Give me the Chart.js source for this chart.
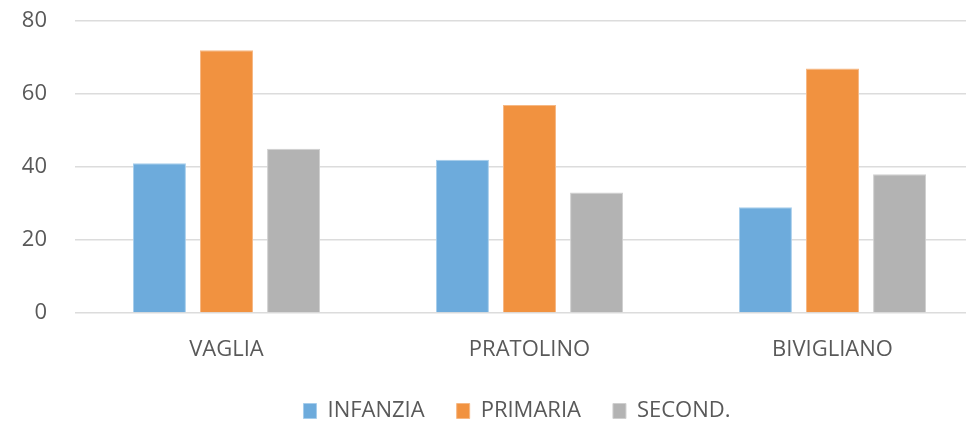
<!DOCTYPE html>
<html>
<head>
<meta charset="utf-8">
<script src="https://cdn.jsdelivr.net/npm/chart.js@4.4.0/dist/chart.umd.min.js"></script>
<style>
  html, body { margin: 0; padding: 0; background: #fff; overflow: hidden; }
  #wrap { position: relative; width: 984px; height: 432px; }
</style>
</head>
<body>
<div id="wrap"><canvas id="scuole"></canvas></div>
<script>
// iscritti per plesso e ordine di scuola
var plessi = ['VAGLIA', 'PRATOLINO', 'BIVIGLIANO'];
var infanzia = [41, 42, 29];
var primaria = [72, 57, 67];
var secondaria = [45, 33, 38];
var yTicks = [0, 20, 40, 60, 80];

var testo = '#595959';
var griglia = '#dcdcdc';

function serie(label, values, fill, edge) {
    return {
        label: label,
        data: values,
        backgroundColor: fill,
        borderColor: edge,
        borderWidth: 1,
        barPercentage: 0.79,
        categoryPercentage: 0.664
    };
}

// sposta la legenda un po' a destra, centrata sotto l'area del grafico
var spostaLegenda = {
    id: 'spostaLegenda',
    afterLayout: function (chart) {
        chart.legend.left += 15;
        chart.legend.right += 15;
    }
};

var ctx = document.getElementById('scuole').getContext('2d');
new Chart(ctx, {
    type: 'bar',
    data: {
        labels: plessi,
        datasets: [
            serie('INFANZIA', infanzia, '#6dabdc', '#a6cdec'),
            serie('PRIMARIA', primaria, '#f19240', '#f6b884'),
            serie('SECOND.', secondaria, '#b3b3b3', '#cfcfcf')
        ]
    },
    plugins: [spostaLegenda],
    options: {
        responsive: true,
        maintainAspectRatio: false,
        animation: false,
        layout: { padding: { top: 21, left: 20, right: 0, bottom: 0 } },
        plugins: {
            tooltip: { enabled: false },
            legend: {
                position: 'bottom',
                labels: {
                    color: testo,
                    font: { family: 'Open Sans', size: 22 },
                    boxWidth: 13,
                    boxHeight: 15,
                    padding: 32
                }
            }
        },
        scales: {
            x: {
                afterFit: function (scale) { scale.height = 55; },
                grid: { display: false },
                border: { display: false },
                ticks: {
                    color: testo,
                    padding: 16,
                    font: { family: 'Open Sans', size: 22 }
                }
            },
            y: {
                min: 0,
                max: 80,
                afterFit: function (scale) {
                    // il padding delle etichette non deve spingere giù l'area
                    scale.width = 55;
                    scale.paddingTop = 0;
                    scale.paddingBottom = 0;
                },
                afterBuildTicks: function (scale) {
                    scale.ticks = yTicks.map(function (v) { return { value: v }; });
                },
                grid: { color: griglia, lineWidth: 1.5, drawTicks: false },
                border: { display: false },
                ticks: {
                    color: testo,
                    padding: 28,
                    font: { family: 'Open Sans', size: 22 }
                }
            }
        }
    }
});
</script>
</body>
</html>
